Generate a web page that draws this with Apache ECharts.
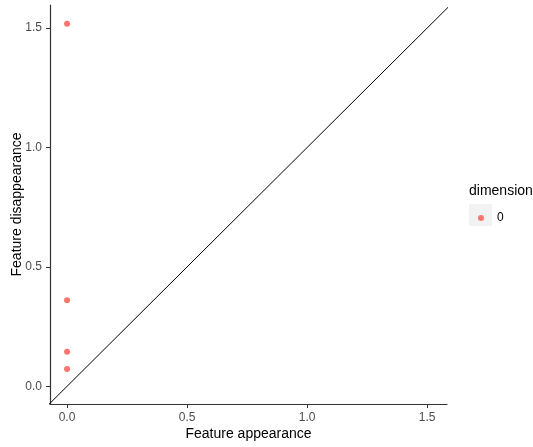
<!DOCTYPE html>
<html>
<head>
<meta charset="utf-8">
<script src="https://cdn.jsdelivr.net/npm/echarts@6/dist/echarts.min.js"></script>
<style>
  html, body { margin: 0; padding: 0; background: #fff; }
  #chart { width: 533px; height: 447px; }
</style>
</head>
<body>
<div id="chart"></div>
<script>
// persistence diagram values
var appearance = [0, 0, 0, 0];
var disappearance = [1.518, 0.36, 0.145, 0.073];
var dimensionName = '0';
var tickValues = [0, 0.5, 1, 1.5];
var diagonal = [[-0.2, -0.2], [1.8, 1.8]];

(function () {
    var myChart = echarts.init(document.getElementById('chart'));
    var points = appearance.map(function (x, i) { return [x, disappearance[i]]; });

    var axisCommon = {
        type: 'value',
        splitLine: { show: false },
        axisLine: { show: true, onZero: false, lineStyle: { color: '#333', width: 1.2 } },
        axisTick: { show: true, length: 4, customValues: tickValues, lineStyle: { color: '#333', width: 1 } },
        axisLabel: {
            color: '#4d4d4d', fontSize: 12, fontFamily: 'Arial, Liberation Sans',
            customValues: tickValues,
            formatter: function (v) { return v.toFixed(1); }
        },
        nameLocation: 'middle',
        nameMoveOverlap: false,
        nameTextStyle: { color: '#000', fontSize: 14, fontFamily: 'Arial, Liberation Sans' }
    };

    var option = {
        animation: false,
        grid: { left: 50, right: 86, top: 5, bottom: 43, outerBoundsMode: 'none', containLabel: false },
        xAxis: Object.assign({}, axisCommon, {
            min: -0.071, max: 1.583,
            name: 'Feature appearance', nameGap: 23
        }),
        yAxis: Object.assign({}, axisCommon, {
            min: -0.074, max: 1.597,
            name: 'Feature disappearance', nameGap: 26
        }),
        legend: {
            data: [dimensionName],
            orient: 'vertical',
            left: 473, top: 207,
            icon: 'circle',
            itemWidth: 6, itemHeight: 6,
            itemGap: 4,
            textStyle: { color: '#000', fontSize: 12, fontFamily: 'Arial, Liberation Sans', padding: [0, 0, 0, 8] }
        },
        graphic: [
            { type: 'rect', left: 469, top: 204, shape: { width: 23, height: 22 }, style: { fill: '#f2f2f2' }, z: -1 },
            { type: 'text', left: 469, top: 184, style: { text: 'dimension', fill: '#000', fontSize: 14, fontFamily: 'Arial, Liberation Sans' } }
        ],
        series: [
            {
                type: 'line',
                data: diagonal,
                symbol: 'none',
                clip: true,
                lineStyle: { color: '#000', width: 1 },
                silent: true,
                legendHoverLink: false
            },
            {
                name: dimensionName,
                type: 'scatter',
                data: points,
                symbolSize: 6,
                itemStyle: { color: '#F8766D', opacity: 1 }
            }
        ]
    };

    myChart.setOption(option);
})();
</script>
</body>
</html>
